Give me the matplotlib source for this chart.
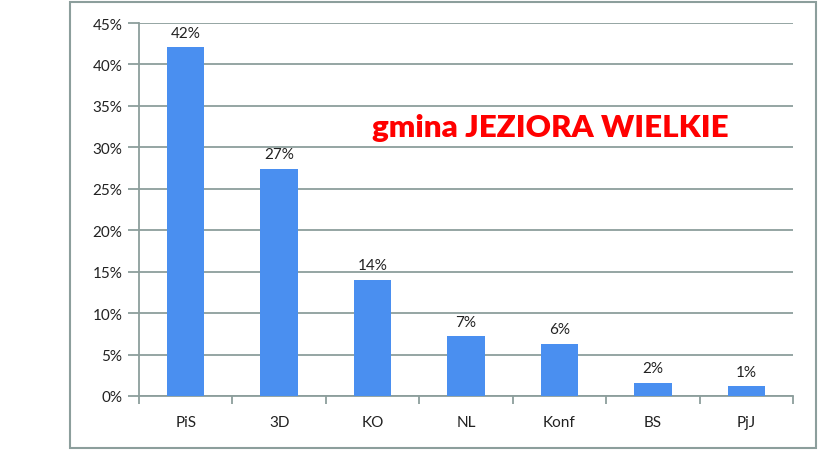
import matplotlib.pyplot as plt
from matplotlib.patches import Rectangle
from matplotlib.ticker import PercentFormatter

# data
parties = ['PiS', '3D', 'KO', 'NL', 'Konf', 'BS', 'PjJ']
shares = [42.1, 27.4, 14.0, 7.2, 6.3, 1.6, 1.2]
labels = ['42%', '27%', '14%', '7%', '6%', '2%', '1%']
title = 'gmina JEZIORA WIELKIE'

bar_color = '#4a8ff0'
grid_color = '#8c9e9c'

plt.rcParams['font.family'] = ['Lato', 'DejaVu Sans']

fig = plt.figure(figsize=(8.4, 4.52), dpi=100)
ax = fig.add_axes([139 / 840, 1 - 397 / 452, (793 - 139) / 840, (397 - 24) / 452])

# outer frame around the chart
fig.patches.append(Rectangle((70 / 840, 1 - 449 / 452), (816 - 70) / 840, (449 - 3) / 452,
                             transform=fig.transFigure, fill=False,
                             edgecolor=grid_color, linewidth=1.5))

x = range(len(parties))
bars = ax.bar(x, shares, width=0.4, color=bar_color, zorder=3)

for xi, v, lab in zip(x, shares, labels):
    ax.text(xi, v + 0.9, lab, ha='center', va='bottom', fontsize=11, color='#222222')

ax.set_xlim(-0.5, len(parties) - 0.5)
ax.set_ylim(0, 45)
ax.set_yticks(range(0, 46, 5))
ax.yaxis.set_major_formatter(PercentFormatter(decimals=0))
ax.set_xticks(list(x))
ax.set_xticklabels(parties)
ax.set_xticks([i - 0.5 for i in range(len(parties) + 1)], minor=True)

ax.grid(axis='y', color=grid_color, linewidth=1.3, zorder=0)
for s in ['top', 'right']:
    ax.spines[s].set_visible(False)
for s in ['left', 'bottom']:
    ax.spines[s].set_color(grid_color)
    ax.spines[s].set_linewidth(1.3)

ax.tick_params(axis='y', length=8, width=1.3, color=grid_color, labelsize=11, pad=4,
               labelcolor='#222222')
ax.tick_params(axis='x', which='major', length=0, labelsize=11, pad=14, labelcolor='#222222')
ax.tick_params(axis='x', which='minor', length=6, width=1.3, color=grid_color)

fig.text(550 / 840, 1 - 128 / 452, title, ha='center', va='center',
         fontsize=22.5, fontweight='heavy', color='#ff0000')

fig.savefig('out.png', dpi=100)
